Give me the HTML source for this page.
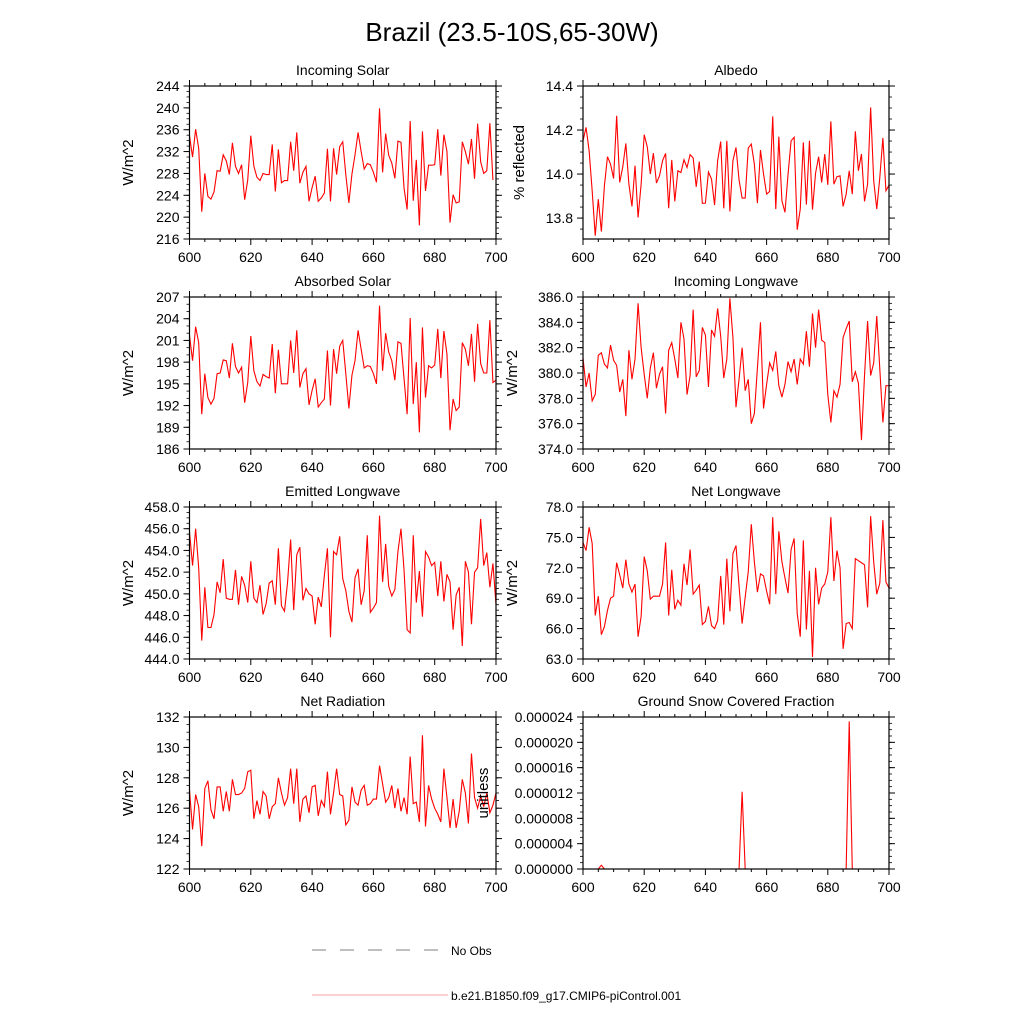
<!DOCTYPE html>
<html><head><meta charset="utf-8"><style>
body{margin:0;background:#fff;}
svg{display:block;font-family:"Liberation Sans",sans-serif;}
</style></head><body>
<svg id="c" width="1024" height="1024" viewBox="0 0 1024 1024">
<text x="512" y="41" font-size="26" text-anchor="middle">Brazil (23.5-10S,65-30W)</text>
<g>
<line x1="312" y1="950" x2="448" y2="950" stroke="#555" stroke-width="0.8" stroke-dasharray="14,14"/>
<text x="451" y="955" font-size="12">No Obs</text>
<line x1="312" y1="995" x2="448" y2="995" stroke="#f08080" stroke-width="0.8"/>
<text x="451" y="1000" font-size="12">b.e21.B1850.f09_g17.CMIP6-piControl.001</text>
</g>
</svg>
<script>
const years = Array.from({length:101},(_,i)=>600+i);
const incomingSolar = [234.9,231.0,236.1,232.6,221.0,228.0,223.8,223.3,224.6,228.5,228.4,231.4,230.3,227.8,233.6,229.3,228.0,229.6,223.2,226.8,234.9,229.3,227.3,226.7,228.0,227.8,227.8,233.3,224.7,232.4,226.3,226.7,226.7,233.8,228.5,235.5,226.2,228.2,229.3,222.9,225.4,227.5,222.9,223.5,224.4,232.5,222.9,232.6,227.8,232.9,233.8,227.8,222.6,227.9,231.4,235.5,232.0,228.8,229.8,229.6,228.2,226.4,239.9,228.2,235.3,231.3,229.9,227.1,233.9,233.7,225.3,221.4,237.6,223.0,230.5,218.5,235.7,224.8,229.5,229.5,229.6,236.1,227.6,235.1,232.0,219.0,224.1,222.6,222.8,233.8,232.0,229.7,234.3,227.0,237.1,230.1,228.0,228.5,237.2,226.8];
const albedo = [14.151,14.212,14.106,13.924,13.720,13.886,13.739,13.947,14.079,14.045,13.980,14.265,13.962,14.033,14.139,13.954,13.853,14.038,13.803,13.954,14.179,14.124,14.000,14.095,13.959,13.992,14.061,14.094,13.845,14.064,13.876,14.015,14.007,14.065,14.030,14.088,14.073,13.942,14.057,13.867,13.868,14.009,13.977,13.859,14.061,14.148,13.844,14.151,13.830,14.061,14.121,13.973,13.891,13.891,14.118,14.136,14.045,13.868,14.109,14.000,13.909,13.921,14.262,13.841,14.170,13.879,13.826,13.997,14.151,14.167,13.747,13.841,14.144,13.861,14.151,13.838,14.004,14.079,13.962,14.091,13.951,14.239,13.954,13.988,13.992,13.853,13.909,14.015,13.909,14.194,14.015,14.091,13.876,13.954,14.303,13.970,13.841,13.985,14.164,13.924,13.95];
const absorbedSolar = [201.7,198.2,202.9,200.7,190.8,196.4,193.1,192.2,193.0,196.4,196.5,198.3,198.2,195.8,200.6,197.4,196.5,197.3,192.4,195.2,201.6,196.8,195.3,194.7,196.3,196.0,195.8,200.5,193.7,199.7,195.0,195.0,195.0,201.0,196.5,202.4,194.5,196.4,197.1,192.1,194.1,195.7,191.8,192.4,192.9,199.6,192.0,199.8,196.4,200.2,201.0,196.4,191.6,196.2,198.2,202.4,199.8,197.2,197.5,197.4,196.4,195.0,205.8,196.8,202.0,199.4,198.2,195.5,200.8,200.6,195.7,190.8,204.1,192.2,198.0,188.3,202.8,193.1,197.5,197.2,197.6,202.6,195.8,202.3,199.1,188.6,192.9,191.3,191.8,200.7,199.8,197.5,201.9,195.3,203.3,197.8,196.5,196.5,203.8,195.2,195.5];
const incomingLongwave = [381.2,378.9,380.0,377.8,378.3,381.4,381.6,380.7,380.4,382.2,381.0,380.6,378.5,379.5,376.6,381.8,379.5,381.1,385.5,382.0,379.9,378.0,380.4,381.6,378.8,379.9,380.5,376.8,381.8,382.4,381.1,379.6,384.0,382.7,378.3,379.8,385.0,379.7,380.2,383.6,383.0,378.9,383.4,382.9,385.1,382.9,379.6,381.1,385.9,382.8,377.3,379.5,382.0,378.6,379.5,376.0,376.8,380.4,384.0,377.2,379.1,380.8,380.2,381.7,379.0,378.1,379.1,380.9,380.1,381.1,379.1,381.1,380.7,383.3,380.5,384.7,382.0,385.0,382.6,382.4,378.3,376.1,378.6,378.1,379.1,382.8,383.5,384.1,379.3,380.1,379.2,374.7,379.8,384.1,379.8,380.8,384.5,380.3,376.1,379.0,379.0];
const emittedLongwave = [455.7,452.6,456.0,452.4,445.7,450.6,446.9,446.9,448.1,451.1,450.1,453.2,449.6,449.5,449.5,452.2,449.0,451.6,450.8,449.2,453.0,449.6,449.2,450.8,448.1,449.1,451.0,451.2,449.0,454.2,448.9,448.4,451.1,455.0,448.5,453.6,454.3,449.4,450.5,450.0,449.8,447.2,449.7,448.8,451.7,454.2,446.0,453.9,453.6,455.3,451.4,450.3,448.4,447.4,451.5,452.3,449.0,450.3,455.4,448.3,448.7,449.2,457.2,451.1,454.6,450.7,449.8,450.4,453.9,456.0,452.2,446.7,446.4,455.4,449.2,452.1,447.9,453.9,453.4,452.6,452.9,449.8,453.0,449.3,451.8,451.1,446.7,449.9,450.6,445.2,453.0,452.0,447.2,452.0,452.4,456.9,452.6,453.8,450.6,452.8,449.0];
const netLongwave = [74.5,73.7,76.0,74.4,67.3,69.2,65.4,66.2,67.8,69.0,69.2,72.5,71.3,70.0,72.8,70.4,69.6,70.4,65.2,67.2,73.1,71.7,68.9,69.2,69.2,69.2,70.4,74.5,67.3,71.8,67.9,68.8,68.3,72.4,70.3,73.8,69.4,69.8,70.3,66.4,66.7,68.2,66.3,66.0,66.8,71.2,66.4,72.9,67.7,73.4,74.2,70.2,66.5,69.1,71.6,76.3,72.6,69.6,71.4,71.2,69.7,68.4,77.0,69.4,75.6,72.6,71.0,69.5,73.8,74.9,67.5,65.2,74.7,65.9,71.7,63.2,72.0,68.4,70.0,70.4,71.6,77.0,70.7,73.7,72.0,64.0,66.5,66.6,66.0,72.9,72.7,72.5,72.3,68.1,77.1,72.6,69.4,70.5,76.7,70.6,70.0];
const netRadiation = [127.2,124.6,126.9,126.1,123.5,127.3,127.8,125.9,125.3,127.4,127.4,125.8,127.1,125.8,127.9,126.9,126.9,127.0,127.3,128.4,128.5,125.3,126.5,125.6,127.1,126.8,125.3,126.1,126.3,128.0,127.0,126.2,126.7,128.6,126.3,128.6,125.1,126.6,126.8,125.7,127.4,127.5,125.5,126.5,126.1,128.4,125.6,127.0,128.6,126.9,126.8,124.9,125.2,127.4,126.4,126.2,127.2,127.5,126.2,126.3,126.6,126.6,128.8,127.6,126.4,126.7,127.5,126.0,127.3,125.8,126.7,125.6,129.4,126.3,126.4,125.1,130.8,124.8,127.5,126.6,126.0,125.6,125.1,128.6,126.7,124.7,126.6,124.7,125.8,127.9,127.0,125.0,129.6,126.7,126.0,126.8,126.1,127.0,125.7,126.2,127.0];
const snowFraction = years.map(()=>0);
snowFraction[6]=0.0000006; snowFraction[52]=0.0000122; snowFraction[87]=0.0000233;

const NS='http://www.w3.org/2000/svg';
const svg=document.getElementById('c');
function mk(tag,attrs,parent){const e=document.createElementNS(NS,tag);for(const k in attrs)e.setAttribute(k,attrs[k]);(parent||svg).appendChild(e);return e;}

const panels=[
 {name:'incoming-solar',title:'Incoming Solar',data:incomingSolar,ymin:216,ymax:244,step:4,minor:1,dec:0,L:189.5,R:496,T:86,B:239,ytitle:'W/m^2',ytx:133},
 {name:'albedo',title:'Albedo',data:albedo,ymin:13.705,ymax:14.4,step:0.2,minor:0.05,dec:1,L:583,R:889,T:86,B:239,ytitle:'% reflected',ytx:524,tick0:13.8},
 {name:'absorbed-solar',title:'Absorbed Solar',data:absorbedSolar,ymin:186,ymax:207,step:3,minor:1,dec:0,L:189.5,R:496,T:297,B:449,ytitle:'W/m^2',ytx:133},
 {name:'incoming-longwave',title:'Incoming Longwave',data:incomingLongwave,ymin:374,ymax:386,step:2,minor:0.5,dec:1,L:583,R:889,T:297,B:449,ytitle:'W/m^2',ytx:517},
 {name:'emitted-longwave',title:'Emitted Longwave',data:emittedLongwave,ymin:444,ymax:458,step:2,minor:0.5,dec:1,L:189.5,R:496,T:507,B:659,ytitle:'W/m^2',ytx:133},
 {name:'net-longwave',title:'Net Longwave',data:netLongwave,ymin:63,ymax:78,step:3,minor:1,dec:1,L:583,R:889,T:507,B:659,ytitle:'W/m^2',ytx:517},
 {name:'net-radiation',title:'Net Radiation',data:netRadiation,ymin:122,ymax:132,step:2,minor:0.5,dec:0,L:189.5,R:496,T:717,B:869,ytitle:'W/m^2',ytx:133},
 {name:'snow-fraction',title:'Ground Snow Covered Fraction',data:snowFraction,ymin:0,ymax:0.000024,step:0.000004,minor:0.000001,dec:6,L:583,R:889,T:717,B:869,ytitle:'unitless',ytx:488}
];

panels.forEach(p=>{
 const g=mk('g',{});
 
 
 const xs=v=>p.L+(v-600)/100*(p.R-p.L);
 const ys=v=>p.B-(v-p.ymin)/(p.ymax-p.ymin)*(p.B-p.T);
 const cp='clip-'+p.name;
 const cl=mk('clipPath',{id:cp},g);mk('rect',{x:p.L,y:p.T,width:p.R-p.L,height:p.B-p.T},cl);
 // line
 const pts=p.data.map((v,i)=>xs(years[i]).toFixed(2)+','+ys(v).toFixed(2)).join(' ');
 const ln=mk('polyline',{points:pts,fill:'none',stroke:'#ff0000','stroke-width':1.1,'clip-path':'url(#'+cp+')'},g);
 
 
 // frame
 const fr=mk('rect',{x:p.L,y:p.T,width:p.R-p.L,height:p.B-p.T,fill:'none',stroke:'#000','stroke-width':1.2},g);
 
 
 // x ticks
 for(let yr=600;yr<=700;yr+=5){
  const x=xs(yr),len=(yr%20===0)?6:3;
  mk('line',{x1:x,y1:p.B,x2:x,y2:p.B+len,stroke:'#000','stroke-width':1},g);
  mk('line',{x1:x,y1:p.T,x2:x,y2:p.T-len,stroke:'#000','stroke-width':1},g);
  if(yr%20===0){const t=mk('text',{x:x,y:p.B+23,'font-size':14,'text-anchor':'middle'},g);t.textContent=yr;
   
   }
 }
 // y minor
 const eps=p.minor*1e-3;
 for(let v=Math.ceil((p.ymin-eps)/p.minor)*p.minor;v<=p.ymax+eps;v+=p.minor){
  const y=ys(v);
  mk('line',{x1:p.L,y1:y,x2:p.L-3,y2:y,stroke:'#000','stroke-width':0.8},g);
  mk('line',{x1:p.R,y1:y,x2:p.R+3,y2:y,stroke:'#000','stroke-width':0.8},g);
 }
 const t0=p.tick0!==undefined?p.tick0:p.ymin;
 for(let k=0;;k++){
  const v=t0+k*p.step; if(v>p.ymax+p.step*1e-3)break;
  const y=ys(v);
  mk('line',{x1:p.L,y1:y,x2:p.L-6,y2:y,stroke:'#000','stroke-width':1},g);
  mk('line',{x1:p.R,y1:y,x2:p.R+6,y2:y,stroke:'#000','stroke-width':1},g);
  const t=mk('text',{x:p.L-10,y:y+5,'font-size':14,'text-anchor':'end'},g);t.textContent=v.toFixed(p.dec);
  
  
 }
 const tt=mk('text',{x:(p.L+p.R)/2,y:p.T-11,'font-size':14,'text-anchor':'middle'},g);tt.textContent=p.title;
 
 
 const cy=(p.T+p.B)/2;
 const yt=mk('text',{x:p.ytx,y:cy,'font-size':15,'text-anchor':'middle',transform:'rotate(-90 '+p.ytx+' '+cy+')'},g);yt.textContent=p.ytitle;
 
 
});
</script>
</body></html>
